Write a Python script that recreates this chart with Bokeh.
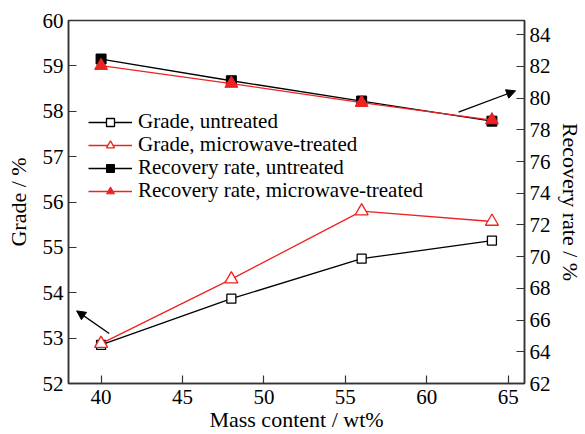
from bokeh.plotting import figure
from bokeh.models import Range1d, LinearAxis, Legend, LegendItem, Arrow, NormalHead, FixedTicker
from bokeh.embed import file_html
from bokeh.resources import INLINE

mass = [40, 48, 56, 64]
grade_untreated = [52.85, 53.87, 54.75, 55.15]
grade_microwave = [52.88, 54.30, 55.80, 55.57]
recovery_untreated = [82.47, 81.10, 79.82, 78.55]
recovery_microwave = [82.05, 80.92, 79.72, 78.62]

series_labels = ["Grade, untreated", "Grade, microwave-treated",
                 "Recovery rate, untreated", "Recovery rate, microwave-treated"]

x_ticks = [40, 45, 50, 55, 60, 65]
left_ticks = [52, 53, 54, 55, 56, 57, 58, 59, 60]
right_ticks = [62, 64, 66, 68, 70, 72, 74, 76, 78, 80, 82, 84]

arrow_left = (40.5, 53.1, 38.5, 53.6)
arrow_right = (61.95, 57.98, 65.45, 58.45)

FONT = "Liberation Serif"
AX = "#333333"
RED = "#ee2222"

p = figure(width=585, height=434, output_backend="svg", toolbar_location=None,
           x_range=Range1d(38, 66), y_range=Range1d(52, 60),
           min_border_left=68, min_border_right=61, min_border_top=20, min_border_bottom=50)
p.extra_y_ranges = {"rec": Range1d(62, 84.9)}
p.grid.visible = False
p.outline_line_color = AX
p.outline_line_width = 1.5
p.background_fill_color = "white"
p.border_fill_color = "white"

def style_axis(ax, standoff):
    ax.axis_line_color = AX
    ax.axis_line_width = 1.5
    ax.major_tick_in = 8
    ax.major_tick_out = 0
    ax.major_tick_line_color = AX
    ax.major_tick_line_width = 1.2
    ax.minor_tick_line_color = None
    ax.major_label_text_font = FONT
    ax.major_label_text_font_size = "21px"
    ax.major_label_text_color = "black"
    ax.major_label_standoff = standoff
    ax.axis_label_text_font = FONT
    ax.axis_label_text_font_size = "22px"
    ax.axis_label_text_font_style = "normal"
    ax.axis_label_text_color = "black"

xa = p.xaxis[0]
xa.ticker = FixedTicker(ticks=x_ticks)
xa.axis_label = "Mass content / wt%"
style_axis(xa, 6)
xa.axis_label_standoff = 0

ya = p.yaxis[0]
ya.ticker = FixedTicker(ticks=left_ticks)
ya.axis_label = "Grade / %"
style_axis(ya, 5)
ya.axis_label_standoff = 9

ra = LinearAxis(y_range_name="rec", axis_label="Recovery rate / %")
ra.ticker = FixedTicker(ticks=right_ticks)
style_axis(ra, 5)
ra.axis_label_standoff = 4
p.add_layout(ra, "right")

l1 = p.line(mass, grade_untreated, line_color="black", line_width=1.3)
m1 = p.scatter(mass, grade_untreated, marker="square", size=9, line_color="black",
               fill_color="white", line_width=1.3)
l2 = p.line(mass, grade_microwave, line_color=RED, line_width=1.3)
m2 = p.scatter(mass, grade_microwave, marker="triangle", size=13, line_color=RED,
               fill_color="white", line_width=1.3)
l3 = p.line(mass, recovery_untreated, y_range_name="rec", line_color="black", line_width=1.3)
m3 = p.scatter(mass, recovery_untreated, y_range_name="rec", marker="square", size=10,
               line_color="black", fill_color="black")
l4 = p.line(mass, recovery_microwave, y_range_name="rec", line_color=RED, line_width=1.3)
m4 = p.scatter(mass, recovery_microwave, y_range_name="rec", marker="triangle", size=13,
               line_color=RED, fill_color=RED)

for (x0, y0, x1, y1) in (arrow_left, arrow_right):
    p.add_layout(Arrow(x_start=x0, y_start=y0, x_end=x1, y_end=y1, line_color="black",
                       line_width=1.3,
                       end=NormalHead(size=9, fill_color="black", line_color="black")))

# one single-row legend per series, to reproduce the tight row spacing
row_offsets = [249, 226, 203, 180]
for label, rends, yoff in zip(series_labels, [[l1, m1], [l2, m2], [l3, m3], [l4, m4]], row_offsets):
    lg = Legend(items=[LegendItem(label=label, renderers=rends)],
                location=(20, yoff), padding=0, margin=0, spacing=0,
                glyph_width=44, glyph_height=20, label_height=20, label_standoff=6,
                label_text_font=FONT, label_text_font_size="21px", label_text_color="black",
                border_line_color=None, background_fill_alpha=0)
    p.add_layout(lg, "center")

open("out.html", "w").write(file_html(p, INLINE))
